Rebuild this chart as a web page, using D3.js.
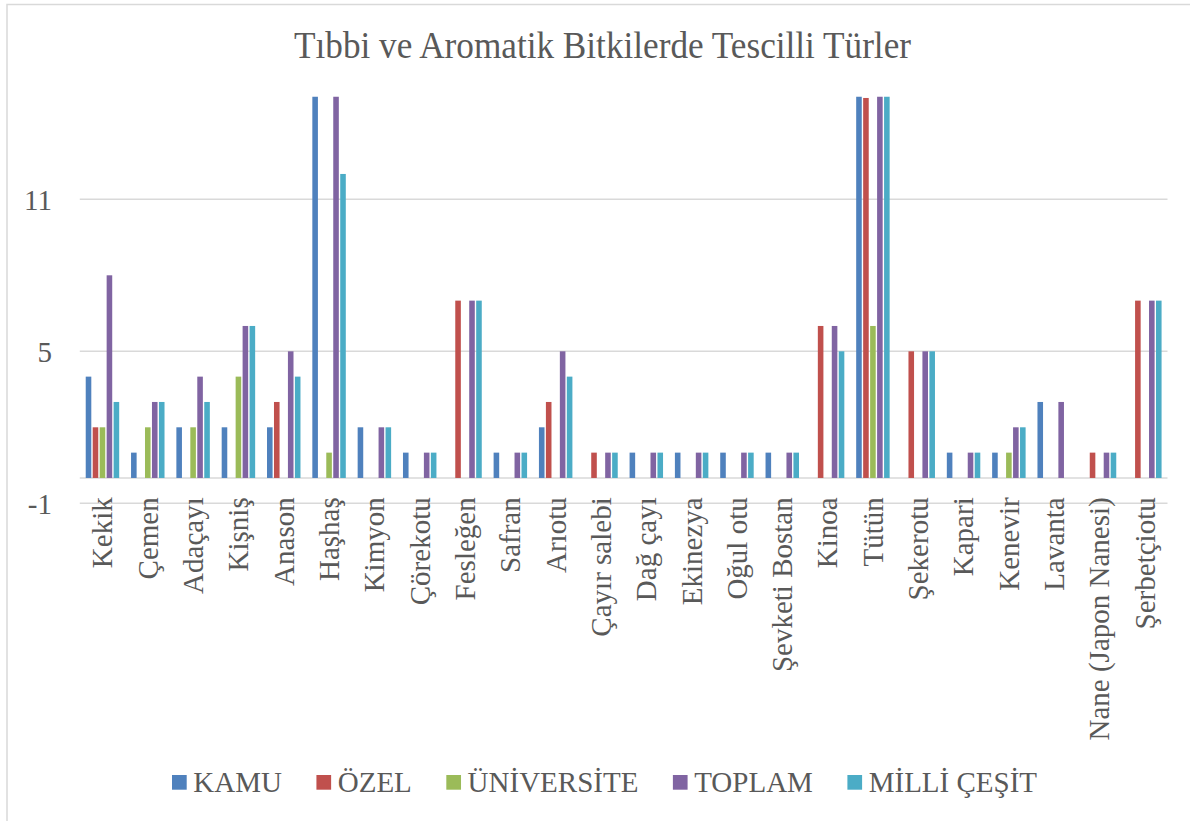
<!DOCTYPE html>
<html>
<head>
<meta charset="utf-8">
<script src="https://cdn.jsdelivr.net/npm/d3@7"></script>
<style>
  html, body { margin: 0; padding: 0; background: #fff; }
  svg { display: block; }
  text { font-family: "Liberation Serif", "Times New Roman", serif; fill: #595959; }
</style>
</head>
<body>
<div id="chart"></div>
<script>
// ---- data (bars above 15 are cut off by the plot) ----
const categories = [
  "Kekik", "Çemen", "Adaçayı", "Kişniş", "Anason", "Haşhaş", "Kimyon", "Çörekotu",
  "Fesleğen", "Safran", "Arıotu", "Çayır salebi", "Dağ çayı", "Ekinezya", "Oğul otu",
  "Şevketi Bostan", "Kinoa", "Tütün", "Şekerotu", "Kapari", "Kenevir", "Lavanta",
  "Nane (Japon Nanesi)", "Şerbetçiotu"
];
const seriesNames = ["KAMU", "ÖZEL", "ÜNİVERSİTE", "TOPLAM", "MİLLİ ÇEŞİT"];
const seriesColors = ["#4F81BD", "#C0504D", "#9BBB59", "#8064A2", "#4BACC6"];

const kamu       = [4, 1, 2, 2, 2, 16, 2, 1, null, 1, 2, null, 1, 1, 1, 1, null, 17, null, 1, 1, 3, null, null];
const ozel       = [2, null, null, null, 3, null, null, null, 7, null, 3, 1, null, null, null, null, 6, 15, 5, null, null, null, 1, 7];
const universite = [2, 2, 2, 4, null, 1, null, null, null, null, null, null, null, null, null, null, null, 6, null, null, 1, null, null, null];
const toplam     = [8, 3, 4, 6, 5, 17, 2, 1, 7, 1, 5, 1, 1, 1, 1, 1, 6, 38, 5, 1, 2, 3, 1, 7];
const milliCesit = [3, 3, 3, 6, 4, 12, 2, 1, 7, 1, 4, 1, 1, 1, 1, 1, 5, 38, 5, 1, 2, null, 1, 7];

const yTicks = [-1, 5, 11];
const yMin = -1, yMax = 15.05;

const title = "Tıbbi ve Aromatik Bitkilerde Tescilli Türler";

// ---- layout ----
const W = 1190, H = 821;
const plot = { left: 79.8, right: 1167.5, top: 96.7, bottom: 503.3 };
const fontSize = "29px";

const svg = d3.select("#chart").append("svg")
  .attr("width", W)
  .attr("height", H);

// chart border (only left + top inside the frame)
svg.append("rect")
  .attr("x", 7).attr("y", 4.5)
  .attr("width", W + 20).attr("height", H + 20)
  .attr("fill", "#fff")
  .attr("stroke", "#D9D9D9")
  .attr("stroke-width", 1.5);

// title
svg.append("text")
  .attr("x", 602.5).attr("y", 58.3)
  .attr("text-anchor", "middle")
  .attr("font-size", "38px")
  .attr("textLength", 617)
  .attr("lengthAdjust", "spacingAndGlyphs")
  .text(title);

// scales
const x0 = d3.scaleBand()
  .domain(categories)
  .range([plot.left, plot.right])
  .padding(0);

const x1 = d3.scaleBand()
  .domain(seriesNames)
  .range([0, x0.bandwidth()])
  .paddingInner(0.2)
  .paddingOuter(0.85);

const y = d3.scaleLinear()
  .domain([yMin, yMax])
  .range([plot.bottom, plot.top]);

const color = d3.scaleOrdinal().domain(seriesNames).range(seriesColors);

// gridlines (+ the category axis line at 0)
svg.append("g")
  .selectAll("line")
  .data(yTicks.concat([0]))
  .join("line")
  .attr("x1", plot.left).attr("x2", plot.right)
  .attr("y1", d => y(d)).attr("y2", d => y(d))
  .attr("stroke", "#D9D9D9")
  .attr("stroke-width", 1.5);

// y axis labels
const yAxis = d3.axisLeft(y)
  .tickValues(yTicks)
  .tickFormat(d => String(d))
  .tickSize(0)
  .tickPadding(0);
svg.append("g")
  .attr("transform", "translate(52,0)")
  .call(yAxis)
  .call(g => g.select(".domain").remove())
  .call(g => g.selectAll("text")
    .attr("font-size", fontSize)
    .attr("font-family", "Liberation Serif, Times New Roman, serif")
    .attr("fill", "#595959")
    .attr("dy", "0.34em"));

// bars
svg.append("defs").append("clipPath")
  .attr("id", "plot-clip")
  .append("rect")
  .attr("x", plot.left).attr("y", plot.top)
  .attr("width", plot.right - plot.left)
  .attr("height", plot.bottom - plot.top);

const seriesData = [kamu, ozel, universite, toplam, milliCesit];
const rows = [];
categories.forEach((c, i) => {
  seriesNames.forEach((s, j) => {
    const v = seriesData[j][i];
    if (v !== null) rows.push({ cat: c, series: s, value: v });
  });
});

svg.append("g")
  .attr("clip-path", "url(#plot-clip)")
  .selectAll("rect")
  .data(rows)
  .join("rect")
  .attr("x", d => x0(d.cat) + x1(d.series))
  .attr("width", x1.bandwidth())
  .attr("y", d => y(Math.max(0, d.value)))
  .attr("height", d => Math.abs(y(0) - y(d.value)))
  .attr("fill", d => color(d.series));

// category labels (rotated)
const xAxis = d3.axisBottom(x0).tickSize(0).tickPadding(0);
svg.append("g")
  .attr("transform", `translate(0,${plot.bottom - 6})`)
  .call(xAxis)
  .call(g => g.select(".domain").remove())
  .call(g => g.selectAll("text")
    .attr("font-size", fontSize)
    .attr("font-family", "Liberation Serif, Times New Roman, serif")
    .attr("fill", "#595959")
    .attr("text-anchor", "end")
    .attr("transform", "rotate(-90)")
    .attr("x", 0)
    .attr("y", 0)
    .attr("dy", "0.34em"));

// legend: square, label, then a fixed gap before the next entry
const legendY = 791.7;
const legend = svg.append("g");
let lx = 172;
seriesNames.forEach((s, i) => {
  legend.append("rect")
    .attr("x", lx).attr("y", legendY - 16.7)
    .attr("width", 14.7).attr("height", 14.7)
    .attr("fill", color(s));
  const t = legend.append("text")
    .attr("x", lx + 21.3).attr("y", legendY)
    .attr("font-size", fontSize)
    .text(s);
  lx += 21.3 + t.node().getComputedTextLength() + 34.5;
});
</script>
</body>
</html>
